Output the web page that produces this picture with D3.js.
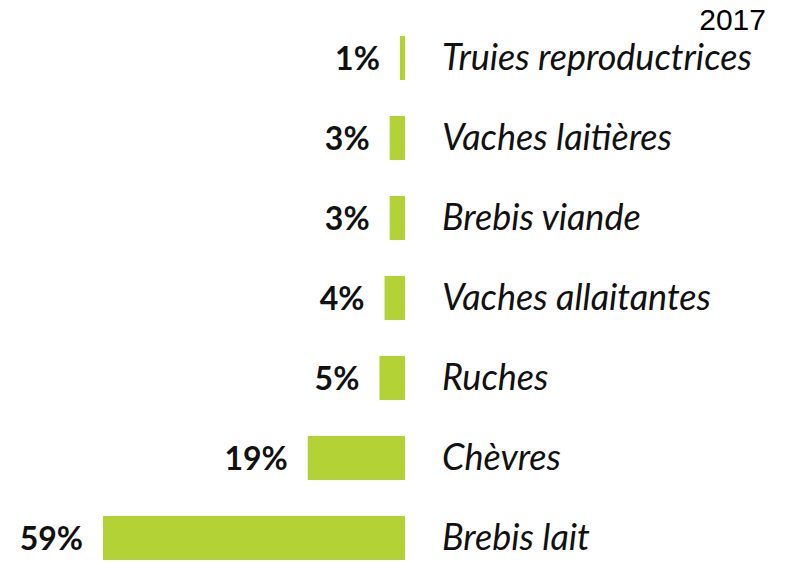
<!DOCTYPE html>
<html>
<head>
<meta charset="utf-8">
<script src="https://cdn.jsdelivr.net/npm/d3@7"></script>
<style>
  body { margin: 0; background: #fff; }
  .val { font-family: Lato, sans-serif; font-weight: bold; font-size: 32px; fill: #111; }
  .cat { font-family: Lato, sans-serif; font-style: italic; font-size: 36px; fill: #111; }
  .year { font-family: "Liberation Sans", Arial, sans-serif; font-size: 30px; fill: #000; }
</style>
</head>
<body>
<svg id="chart" width="785" height="564"></svg>
<script>
// share of each livestock type, 2017
const categories = ["Truies reproductrices", "Vaches laitières", "Brebis viande",
                    "Vaches allaitantes", "Ruches", "Chèvres", "Brebis lait"];
const values = [1, 3, 3, 4, 5, 19, 59];
const yearLabel = "2017";

const svg = d3.select("#chart");
const baseX = 405;

// bars grow to the left from baseX
const x = d3.scaleLinear().domain([0, 59]).range([0, 302]);
const y = d3.scaleBand().domain(categories).range([18, 578]).paddingInner(0.45).paddingOuter(0.225);

const rows = svg.append("g")
  .selectAll("g")
  .data(categories)
  .enter().append("g");

rows.append("rect")
  .attr("x", (d, i) => baseX - x(values[i]))
  .attr("y", d => y(d))
  .attr("width", (d, i) => x(values[i]))
  .attr("height", y.bandwidth())
  .attr("fill", "#b3d236");

rows.append("text")
  .attr("class", "val")
  .attr("x", (d, i) => baseX - x(values[i]) - 20)
  .attr("y", d => y(d) + y.bandwidth() / 2)
  .attr("dy", "0.36em")
  .attr("text-anchor", "end")
  .text((d, i) => values[i] + "%");

rows.append("text")
  .attr("class", "cat")
  .attr("x", 442)
  .attr("y", d => y(d) + y.bandwidth() / 2)
  .attr("dy", "0.34em")
  .text(d => d);

svg.append("text")
  .attr("class", "year")
  .attr("x", 766)
  .attr("y", 30)
  .attr("text-anchor", "end")
  .text(yearLabel);
</script>
</body>
</html>
